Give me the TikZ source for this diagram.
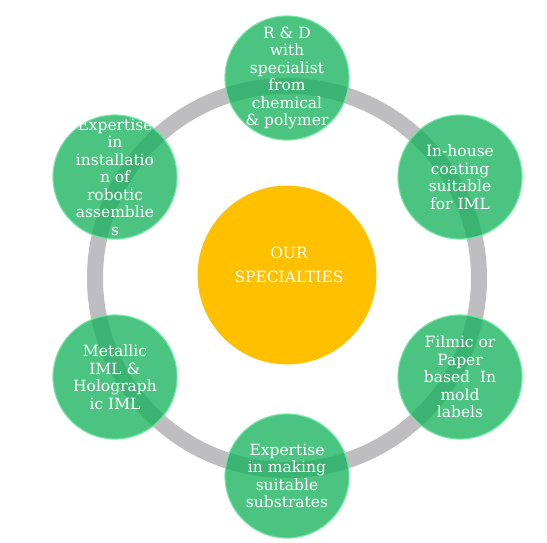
\documentclass[tikz,border=0pt]{standalone}
\usepackage{fontspec}
\setmainfont{DejaVu Serif}
\definecolor{ringgray}{RGB}{190,190,193}
\definecolor{greenfill}{RGB}{16,176,88}
\definecolor{greenrim}{RGB}{110,232,160}
\definecolor{coreyellow}{RGB}{255,192,0}
\tikzset{
  ring/.style={draw=ringgray, line width=16pt},
  spec/.style={circle, minimum size=124pt, inner sep=0pt, fill=greenfill, fill opacity=0.75,
    draw=greenrim, draw opacity=0.9, line width=1.2pt},
  spectext/.style={text=white, align=center, inner sep=0pt,
    font=\fontsize{15.5}{17.5}\selectfont},
  corec/.style={circle, minimum size=180pt, inner sep=0pt, fill=coreyellow, draw=white, line width=1pt},
  coretextstyle/.style={text=white, align=center, font=\fontsize{15.5}{24}\selectfont}
}
\begin{document}
\begin{tikzpicture}[x=1pt,y=-1pt]
\useasboundingbox[fill=white] (0,0) rectangle (547,542);
\coordinate (c) at (287,278);
\draw[ring] (c) circle[radius=192];
\node[corec] (core) at (287,275) {};
\node[coretextstyle] (coretext) at (289,265) {OUR\\SPECIALTIES};
\node[spec] (rd) at (287,78) {};
\node[spectext] (rdt) at (rd) {R \& D\\with\\specialist\\from\\chemical\\\& polymer};
\node[spec] (coat) at (460,177) {};
\node[spectext] (coatt) at (coat) {In-house\\coating\\suitable\\for IML};
\node[spec] (film) at (460,377) {};
\node[spectext] (filmt) at (film) {Filmic or\\Paper\\based\ \ In\\mold\\labels};
\node[spec] (subs) at (287,476) {};
\node[spectext] (subst) at (subs) {Expertise\\in making\\suitable\\substrates};
\node[spec] (metal) at (115,377) {};
\node[spectext] (metalt) at (metal) {Metallic\\IML \&\\Holograph\\ic IML};
\node[spec] (robot) at (115,177) {};
\node[spectext] (robott) at (robot) {Expertise\\in\\installatio\\n of\\robotic\\assemblie\\s};
\end{tikzpicture}
\end{document}
